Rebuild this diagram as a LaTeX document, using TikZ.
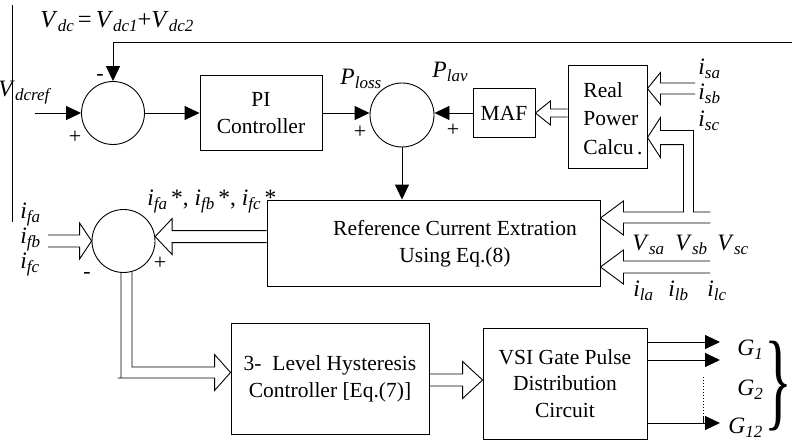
\documentclass[tikz,border=0pt]{standalone}
\usepackage{fontspec}
\setmainfont{Liberation Serif}
\usetikzlibrary{arrows.meta,calc}

% italic symbol with a lowered italic subscript
\newcommand\lbl[2]{\textit{#1}\raisebox{-4pt}{\fontsize{17}{17}\selectfont\textit{#2}}}

% hollow (outline) arrows: #1 head length, #2 half shaft width,
% #3 half head width, #4 tail point, #5 tip point
\newcommand\hollowL[5]{%
  \draw[hollow] let \p1=(#4), \p2=(#5) in
    (\x1,\y2+#2pt) -- (\x2+#1pt,\y2+#2pt) -- (\x2+#1pt,\y2+#3pt) -- (\x2,\y2)
    -- (\x2+#1pt,\y2-#3pt) -- (\x2+#1pt,\y2-#2pt) -- (\x1,\y2-#2pt);}
\newcommand\hollowR[5]{%
  \draw[hollow] let \p1=(#4), \p2=(#5) in
    (\x1,\y2+#2pt) -- (\x2-#1pt,\y2+#2pt) -- (\x2-#1pt,\y2+#3pt) -- (\x2,\y2)
    -- (\x2-#1pt,\y2-#3pt) -- (\x2-#1pt,\y2-#2pt) -- (\x1,\y2-#2pt);}

\tikzset{
  blk/.style={draw, inner sep=0pt, align=center, font=\fontsize{21.5}{26.5}\selectfont},
  sumj/.style={draw, circle, inner sep=0pt},
  lab/.style={inner sep=0pt, font=\fontsize{23.5}{27}\selectfont},
  sgn/.style={inner sep=0pt, font=\fontsize{22}{22}\selectfont},
  fwd/.style={-{Triangle[length=15pt,width=14pt]}},
  hollow/.style={line join=miter},
}

\begin{document}
\begin{tikzpicture}[x=1pt,y=-1pt,line width=0.9pt]
\useasboundingbox (0,0) rectangle (792,441);

% ---- blocks and summing junctions
\node[sumj, minimum size=63] (c1) at (113,113) {};
\node[blk, minimum width=122, minimum height=75] (pi) at (261,113) {PI\\Controller};
\node[sumj, minimum size=64] (c2) at (402,115) {};
\node[blk, minimum width=62, minimum height=49] (maf) at (504,113) {MAF};
\node[blk, minimum width=79, minimum height=103] (rpc) at (607.5,116.5) {};
\node[inner sep=0pt, align=left, font=\fontsize{21.5}{28.5}\selectfont] (rpct) at (613,118.5) {Real\\Power\\Calcu\,.};
\node[blk, minimum width=333, minimum height=86] (ref) at (433.5,243) {};
\node[inner sep=0pt, align=center, font=\fontsize{21.5}{27}\selectfont] (reft) at (455,243.5) {Reference Current Extration\\Using Eq.(8)};
\node[sumj, minimum size=63] (c3) at (123.5,241) {};
\node[blk, minimum width=198, minimum height=111, font=\fontsize{21.5}{27}\selectfont] (hyst) at (330,378.5) {3-~ Level Hysteresis\\Controller [Eq.(7)]};
\node[blk, minimum width=164, minimum height=111] (vsi) at (565,383.5) {VSI Gate Pulse\\Distribution\\Circuit};

% ---- free ends
\coordinate (lvt) at (12,5);
\coordinate (lvb) at (12,222);
\coordinate (fbR) at (792,42);
\coordinate (vin) at (35,113);
\coordinate (isab) at (695,89);
\coordinate (ilend) at (710,267);
\coordinate (ifin) at (48,241);
\coordinate (g1) at (720,342);
\coordinate (g2) at (720,360);
\coordinate (g12) at (720,423);
\coordinate (dtop) at (703,377);
\coordinate (dbot) at (703,417);

% ---- signal lines
\draw (lvt) -- (lvb);
\draw[fwd] (fbR) -- (fbR -| c1.north) -- (c1.north);
\draw[fwd] (vin) -- (c1.west);
\draw[fwd] (c1.east) -- (pi.west);
\draw[fwd] (pi.east) -- (pi.east -| c2.west);
\draw[fwd] (maf.west) -- (maf.west -| c2.east);
\draw[fwd] (c2.south) -- (c2.south |- ref.north);

% ---- multi-phase (hollow) arrows
\hollowL{15}{4}{12}{rpc.west}{maf.east}
\hollowL{13}{5.5}{16}{isab}{$(rpc.north east)+(0,24)$}
% i_sc branch into the power block and supply voltages into the reference block
\draw[hollow] let \p1=($(rpc.north east)+(0,73)$), \p2=($(ref.east)+(0,-25)$) in
  (\x1+63pt,\y2+6pt) -- (\x1+46pt,\y2+6pt) -- (\x1+46pt,\y1+7pt) -- (\x1+13pt,\y1+7pt)
  -- (\x1+13pt,\y1+20pt) -- (\x1,\y1) -- (\x1+13pt,\y1-20pt) -- (\x1+13pt,\y1-7pt)
  -- (\x1+36pt,\y1-7pt) -- (\x1+36pt,\y2+6pt) -- (\x2+23pt,\y2+6pt) -- (\x2+23pt,\y2+17pt)
  -- (\x2,\y2) -- (\x2+23pt,\y2-17pt) -- (\x2+23pt,\y2-5pt) -- (\x1+63pt,\y2-5pt);
\hollowL{23}{6}{17}{ilend}{$(ref.east)+(0,24)$}
\hollowL{17}{6}{18}{ref.west}{c3.8}
\hollowR{12}{6}{18}{ifin}{c3.west}
% current error into the hysteresis controller
\draw[hollow] let \p1=(c3.center), \p2=($(hyst.west)+(0,-6)$) in
  (\x1+8.5pt,\y1-30.8pt) -- (\x1+8.5pt,\y2+5.5pt) -- (\x2-16pt,\y2+5.5pt) -- (\x2-16pt,\y2+18pt)
  -- (\x2,\y2) -- (\x2-16pt,\y2-18pt) -- (\x2-16pt,\y2-5.5pt) -- (\x1-6pt,\y2-5.5pt)
  (\x1-2.5pt,\y1-31.9pt) -- (\x1-2.5pt,\y2-5.5pt);
\hollowR{20}{6}{18.5}{hyst.east}{$(vsi.west)+(0,-3.5)$}

% ---- gate outputs
\draw[fwd] (g1 -| vsi.east) -- (g1);
\draw[fwd] (g2 -| vsi.east) -- (g2);
\draw[fwd] (g12 -| vsi.east) -- (g12);
\draw[dash pattern=on 1pt off 2pt] (dtop) -- (dbot);
\draw (dbot) -- (dbot |- g12);
\node[inner sep=0pt, xscale=0.52, yscale=0.97, font=\fontsize{112}{112}\selectfont] (brace) at (778,386) {\}};

% ---- labels
\node[lab, anchor=base west, font=\fontsize{24.5}{28}\selectfont] (vdc) at (40,28) {\lbl{V}{dc}\,=\,\lbl{V}{dc1}+\lbl{V}{dc2}};
\node[lab, anchor=base west] (vdcref) at (-2,97) {\lbl{V}{dcref}};
\node[lab, anchor=base west] (ploss) at (340,85) {\lbl{P}{loss}};
\node[lab, anchor=base west] (plav) at (432,78) {\lbl{P}{lav}};
\node[lab, anchor=base west] (isa) at (698,75) {\lbl{i}{sa}};
\node[lab, anchor=base west] (isb) at (698,100) {\lbl{i}{sb}};
\node[lab, anchor=base west] (isc) at (698,127) {\lbl{i}{sc}};
\node[lab, anchor=base west] (vsa) at (632,250) {\lbl{V}{sa}};
\node[lab, anchor=base west] (vsb) at (675,250) {\lbl{V}{sb}};
\node[lab, anchor=base west] (vsc) at (717,250) {\lbl{V}{sc}};
\node[lab, anchor=base west] (ila) at (633,296) {\lbl{i}{la}};
\node[lab, anchor=base west] (ilb) at (668,296) {\lbl{i}{lb}};
\node[lab, anchor=base west] (ilc) at (707,296) {\lbl{i}{lc}};
\node[lab, anchor=base west] (ifref) at (147,205) {\lbl{i}{fa}\,*, \lbl{i}{fb}\,*, \lbl{i}{fc}\,*};
\node[lab, anchor=base west] (ifa) at (20,218) {\lbl{i}{fa}};
\node[lab, anchor=base west] (ifb) at (20,243) {\lbl{i}{fb}};
\node[lab, anchor=base west] (ifc) at (20,268) {\lbl{i}{fc}};
\node[lab, anchor=base west] (gg1) at (737,355) {\lbl{G}{1}};
\node[lab, anchor=base west] (gg2) at (737,395) {\lbl{G}{2}};
\node[lab, anchor=base west] (gg12) at (728,433) {\lbl{G}{12}};

% ---- signs at the summing junctions
\node[sgn] (m1) at (100,77) {-};
\node[sgn] (p1) at (75,137) {+};
\node[sgn] (p2) at (360,132) {+};
\node[sgn] (p3) at (453,130) {+};
\node[sgn] (m3) at (87,275) {-};
\node[sgn] (p4) at (160,263) {+};
\end{tikzpicture}
\end{document}
